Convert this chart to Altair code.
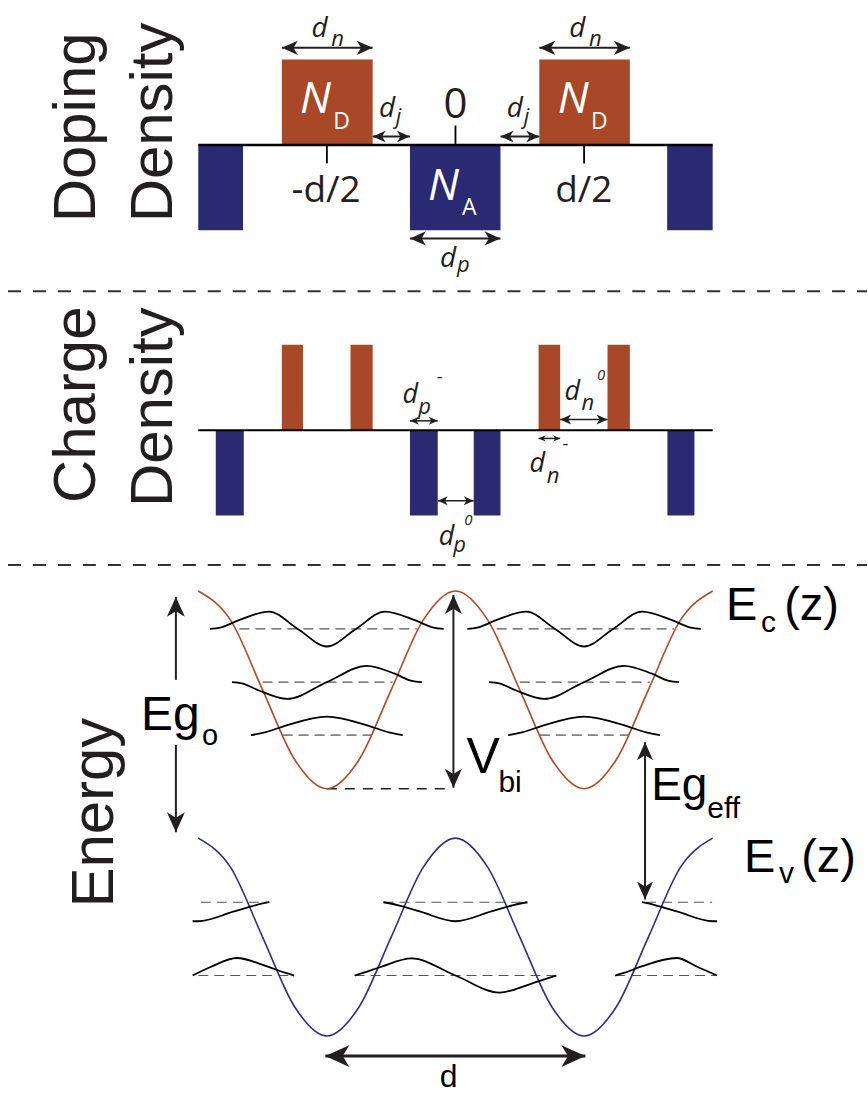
import altair as alt
import pandas as pd

# ------------------------------------------------------------------
# Page / scale set-up (z is measured in units of the period d, z = 0 at
# the centre of the acceptor layer)
# ------------------------------------------------------------------
W = 868
H1, H2, H3 = 291, 274, 530
X_DOM = [-1.7709, 1.6000]          # z range covered by the page width
Y1_DOM = [-1.7135, 1.6901]         # doping density, units of N
Y2_DOM = [-1.5789, 1.6257]         # charge density, units of N
Y3_DOM = [-3.0909, 2.2626]         # energy, arbitrary units (Vbi = 2)

ORANGE = "#A84826"
NAVY = "#2A2A72"
EC_COL = "#B04A26"
EV_COL = "#2E2E84"
INK = "#231F20"
FONT_M = "Open Sans"
FONT_H = "Liberation Sans"
HEAD = "M0,0L-2,-0.9L-1.45,0L-2,0.9Z"

# ------------------------------------------------------------------
# Chart values
# ------------------------------------------------------------------
# Doping density profile
dop_kind = ["acceptor", "donor", "acceptor", "donor", "acceptor"]
dop_z0 = [-1.000, -0.675, -0.177, 0.326, 0.823]
dop_z1 = [-0.826, -0.322, 0.175, 0.678, 1.000]
dop_level = [-1.0, 1.0, -1.0, 1.0, -1.0]

axis_z = [-1.0, 1.0]
tick_z = [-0.5, 0.0, 0.5]
tick_end = [-0.216, 0.228, -0.216]

# Charge density profile (depleted parts of each layer)
chg_kind = ["acceptor", "donor", "donor", "acceptor", "acceptor", "donor", "donor", "acceptor"]
chg_z0 = [-0.932, -0.675, -0.408, -0.177, 0.071, 0.323, 0.591, 0.824]
chg_z1 = [-0.823, -0.593, -0.322, -0.069, 0.175, 0.407, 0.678, 0.929]
chg_level = [-1.0, 1.0, 1.0, -1.0, -1.0, 1.0, 1.0, -1.0]

# Band edges
band_z = [-1.0, -0.875, -0.75, -0.625, -0.5, -0.375, -0.25, -0.125, 0.0,
          0.125, 0.25, 0.375, 0.5, 0.625, 0.75, 0.875, 1.0]
ec_E = [2.0, 1.707, 1.0, 0.293, 0.0, 0.293, 1.0, 1.707, 2.0,
        1.707, 1.0, 0.293, 0.0, 0.293, 1.0, 1.707, 2.0]
ev_E = [-0.5, -0.793, -1.5, -2.207, -2.5, -2.207, -1.5, -0.793, -0.5,
        -0.793, -1.5, -2.207, -2.5, -2.207, -1.5, -0.793, -0.5]

# Subband energies (dashed) : z0, z1, E
cb_lev_z0 = [-0.84, 0.16, -0.75, 0.25, -0.672, 0.328]
cb_lev_z1 = [-0.15, 0.85, -0.245, 0.755, -0.326, 0.674]
cb_lev_E = [1.616, 1.616, 1.078, 1.078, 0.542, 0.542]
vb_lev_z0 = [-0.99, -0.28, 0.741, -1.0, -0.392, 0.621]
vb_lev_z1 = [-0.72, 0.28, 0.998, -0.629, 0.392, 1.01]
vb_lev_E = [-1.148, -1.148, -1.148, -1.889, -1.889, -1.889]

# Wave functions drawn on top of each subband
waves = {
    "c1L": ([-0.954, -0.915, -0.842, -0.725, -0.613, -0.5, -0.387, -0.275, -0.158, -0.085, -0.046],
            [1.616, 1.628, 1.704, 1.791, 1.616, 1.438, 1.616, 1.791, 1.704, 1.628, 1.616]),
    "c1R": ([0.046, 0.085, 0.158, 0.275, 0.387, 0.5, 0.613, 0.725, 0.842, 0.915, 0.954],
            [1.616, 1.628, 1.704, 1.791, 1.616, 1.438, 1.616, 1.791, 1.704, 1.628, 1.616]),
    "c2L": ([-0.869, -0.83, -0.764, -0.655, -0.5, -0.345, -0.236, -0.17, -0.131],
            [1.078, 1.066, 0.993, 0.908, 1.078, 1.243, 1.163, 1.090, 1.078]),
    "c2R": ([0.131, 0.17, 0.236, 0.345, 0.5, 0.655, 0.764, 0.83, 0.869],
            [1.078, 1.066, 0.993, 0.908, 1.078, 1.243, 1.163, 1.090, 1.078]),
    "c3L": ([-0.795, -0.741, -0.663, -0.5, -0.337, -0.259, -0.205],
            [0.542, 0.570, 0.636, 0.730, 0.636, 0.570, 0.542]),
    "c3R": ([0.205, 0.259, 0.337, 0.5, 0.663, 0.741, 0.795],
            [0.542, 0.570, 0.636, 0.730, 0.636, 0.570, 0.542]),
    "v1L": ([-1.022, -1.0, -0.864, -0.775, -0.725],
            [-1.340, -1.340, -1.244, -1.177, -1.148]),
    "v1C": ([-0.280, -0.225, -0.136, 0.0, 0.136, 0.225, 0.280],
            [-1.148, -1.177, -1.244, -1.340, -1.244, -1.177, -1.148]),
    "v1R": ([0.725, 0.775, 0.864, 1.0, 1.017],
            [-1.148, -1.177, -1.244, -1.340, -1.340]),
    "v2L": ([-1.022, -0.95, -0.85, -0.73, -0.66, -0.627],
            [-1.889, -1.800, -1.712, -1.800, -1.863, -1.889]),
    "v2C": ([-0.392, -0.36, -0.291, -0.171, 0.0, 0.171, 0.291, 0.36, 0.392],
            [-1.889, -1.863, -1.803, -1.716, -1.889, -2.062, -1.975, -1.915, -1.889]),
    "v2R": ([0.621, 0.655, 0.72, 0.86, 0.94, 1.017],
            [-1.889, -1.863, -1.800, -1.712, -1.800, -1.889]),
}

vbi_ref = {"z0": -0.5, "z1": -0.016, "E": 0.0}

# Dimension arrows: panel, z0, z1, y0, y1, head at start, head at end, head length, width
arrows = [
    (1, -0.675, -0.322, 1.137, 1.137, True, True, 16, 2.0),
    (1, 0.326, 0.678, 1.137, 1.137, True, True, 16, 2.0),
    (1, -0.322, -0.177, 0.099, 0.099, True, True, 13, 2.0),
    (1, 0.175, 0.326, 0.099, 0.099, True, True, 13, 2.0),
    (1, -0.177, 0.175, -1.094, -1.094, True, True, 16, 2.0),
    (2, -0.177, -0.069, 0.109, 0.109, True, True, 9, 1.5),
    (2, -0.069, 0.071, -0.827, -0.827, True, True, 10, 1.5),
    (2, 0.407, 0.591, 0.125, 0.125, True, True, 11, 1.5),
    (2, 0.323, 0.407, -0.097, -0.097, True, True, 7, 1.5),
    (3, -0.008, -0.008, 0.01, 1.96, True, True, 19, 2.0),
    (3, -1.087, -1.087, 1.101, 1.94, False, True, 20, 2.0),
    (3, -1.087, -1.087, -0.44, 0.444, True, False, 20, 2.0),
    (3, 0.737, 0.737, -1.12, 0.47, True, True, 18, 2.0),
    (3, -0.506, 0.505, -2.704, -2.704, True, True, 24, 3.0),
]

# Text: panel, text, z, y, size, font, style, align, colour, angle
labels = [
    (1, "N", -0.544, 0.380, 44, FONT_M, "italic", "center", "white", 0),
    (1, "D", -0.443, 0.189, 23, FONT_M, "normal", "center", "white", 0),
    (1, "N", 0.458, 0.380, 44, FONT_M, "italic", "center", "white", 0),
    (1, "D", 0.559, 0.189, 23, FONT_M, "normal", "center", "white", 0),
    (1, "N", -0.047, -0.649, 44, FONT_M, "italic", "center", "white", 0),
    (1, "A", 0.054, -0.825, 23, FONT_M, "normal", "center", "white", 0),
    (1, "-d/2", -0.503, -0.673, 37, FONT_M, "normal", "center", INK, 0),
    (1, "0", 0.0, 0.310, 42, FONT_M, "normal", "center", INK, 0),
    (1, "d/2", 0.499, -0.673, 37, FONT_M, "normal", "center", INK, 0),
    (1, "d", -0.528, 1.269, 28, FONT_M, "italic", "center", INK, 0),
    (1, "n", -0.458, 1.164, 22, FONT_M, "italic", "center", INK, 0),
    (1, "d", 0.474, 1.269, 28, FONT_M, "italic", "center", INK, 0),
    (1, "n", 0.544, 1.164, 22, FONT_M, "italic", "center", INK, 0),
    (1, "d", -0.266, 0.325, 28, FONT_M, "italic", "center", INK, 0),
    (1, "j", -0.221, 0.240, 22, FONT_M, "italic", "center", INK, 0),
    (1, "d", 0.231, 0.325, 28, FONT_M, "italic", "center", INK, 0),
    (1, "j", 0.276, 0.240, 22, FONT_M, "italic", "center", INK, 0),
    (1, "d", -0.029, -1.433, 28, FONT_M, "italic", "center", INK, 0),
    (1, "p", 0.031, -1.491, 22, FONT_M, "italic", "center", INK, 0),
    (1, "Doping", -1.402, -0.906, 60, FONT_H, "normal", "left", INK, 270),
    (1, "Density", -1.103, -0.906, 60, FONT_H, "normal", "left", INK, 270),
    (2, "d", -0.176, 0.316, 27, FONT_M, "italic", "center", INK, 0),
    (2, "p", -0.120, 0.187, 22, FONT_M, "italic", "center", INK, 0),
    (2, "-", -0.062, 0.550, 18, FONT_M, "normal", "center", INK, 0),
    (2, "d", 0.454, 0.351, 27, FONT_M, "italic", "center", INK, 0),
    (2, "n", 0.515, 0.234, 22, FONT_M, "italic", "center", INK, 0),
    (2, "0", 0.566, 0.585, 15, FONT_M, "italic", "center", INK, 0),
    (2, "d", 0.318, -0.491, 27, FONT_M, "italic", "center", INK, 0),
    (2, "n", 0.379, -0.620, 22, FONT_M, "italic", "center", INK, 0),
    (2, "-", 0.427, -0.234, 18, FONT_M, "normal", "center", INK, 0),
    (2, "d", -0.035, -1.345, 27, FONT_M, "italic", "center", INK, 0),
    (2, "p", 0.016, -1.427, 22, FONT_M, "italic", "center", INK, 0),
    (2, "0", 0.050, -1.111, 15, FONT_M, "italic", "center", INK, 0),
    (2, "Charge", -1.402, -0.854, 60, FONT_H, "normal", "left", INK, 270),
    (2, "Density", -1.103, -0.901, 60, FONT_H, "normal", "left", INK, 270),
    (3, "Eg", -1.223, 0.596, 48, FONT_H, "normal", "left", "black", 0),
    (3, "o", -0.986, 0.444, 29, FONT_H, "normal", "left", "black", 0),
    (3, "V", 0.043, 0.162, 50, FONT_H, "normal", "left", "black", 0),
    (3, "bi", 0.167, -0.030, 30, FONT_H, "normal", "left", "black", 0),
    (3, "Eg", 0.761, -0.111, 46, FONT_H, "normal", "left", "black", 0),
    (3, "eff", 0.979, -0.293, 30, FONT_H, "normal", "left", "black", 0),
    (3, "E", 1.052, 1.707, 47, FONT_H, "normal", "left", "black", 0),
    (3, "c", 1.188, 1.586, 30, FONT_H, "normal", "left", "black", 0),
    (3, "(z)", 1.278, 1.707, 47, FONT_H, "normal", "left", "black", 0),
    (3, "E", 1.122, -0.838, 47, FONT_H, "normal", "left", "black", 0),
    (3, "v", 1.258, -0.949, 30, FONT_H, "normal", "left", "black", 0),
    (3, "(z)", 1.344, -0.838, 47, FONT_H, "normal", "left", "black", 0),
    (3, "d", -0.027, -3.020, 32, FONT_H, "normal", "center", "black", 0),
    (3, "Energy", -1.332, -1.202, 60, FONT_H, "normal", "left", INK, 270),
]


# ------------------------------------------------------------------
# Helpers
# ------------------------------------------------------------------
def X(f="z"):
    return alt.X(f"{f}:Q", scale=alt.Scale(domain=X_DOM, nice=False, zero=False), axis=None)


def Y(f, dom):
    return alt.Y(f"{f}:Q", scale=alt.Scale(domain=dom, nice=False, zero=False), axis=None)


KIND_COLOR = alt.Color("kind:N", scale=alt.Scale(domain=["acceptor", "donor"], range=[NAVY, ORANGE]),
                       legend=None)


def rect_layer(kind, z0, z1, level, dom):
    df = pd.DataFrame({"kind": kind, "z0": z0, "z1": z1, "level": level, "base": 0.0})
    return alt.Chart(df).mark_rect().encode(x=X("z0"), x2="z1", y=Y("base", dom), y2="level",
                                            color=KIND_COLOR)


def axis_layer(dom, width):
    df = pd.DataFrame({"z0": [axis_z[0]], "z1": [axis_z[1]], "v": [0.0]})
    return alt.Chart(df).mark_rule(color="black", strokeWidth=width).encode(
        x=X("z0"), x2="z1", y=Y("v", dom))


def arrow_layers(panel, dom):
    rows = [a for a in arrows if a[0] == panel]
    shafts = pd.DataFrame([{"z0": a[1], "z1": a[2], "y0": a[3], "y1": a[4], "w": a[8]} for a in rows])
    heads = []
    for p, z0, z1, y0, y1, h0, h1, L, w in rows:
        horizontal = (y0 == y1)
        if h1:
            heads.append({"z": z1, "y": y1, "size": L * L, "angle": 0 if horizontal else 270})
        if h0:
            heads.append({"z": z0, "y": y0, "size": L * L, "angle": 180 if horizontal else 90})
    heads = pd.DataFrame(heads)
    s = alt.Chart(shafts).mark_rule(color=INK, strokeCap="butt").encode(
        x=X("z0"), x2="z1", y=Y("y0", dom), y2="y1",
        strokeWidth=alt.StrokeWidth("w:Q", scale=None))
    h = alt.Chart(heads).mark_point(shape=HEAD, filled=True, color=INK, opacity=1, strokeWidth=0).encode(
        x=X("z"), y=Y("y", dom), size=alt.Size("size:Q", scale=None),
        angle=alt.Angle("angle:Q", scale=None))
    return [s, h]


def text_layers(panel, dom):
    df = pd.DataFrame([r[1:] for r in labels if r[0] == panel],
                      columns=["text", "z", "y", "size", "font", "style", "align", "color", "angle"])
    out = []
    for (font, style, align, color, angle), g in df.groupby(["font", "style", "align", "color", "angle"]):
        mk = dict(font=font, align=align, baseline="alphabetic", color=color)
        if style == "italic":
            mk["fontStyle"] = "italic"
        if angle:
            mk["angle"] = int(angle)
        out.append(alt.Chart(g).mark_text(**mk).encode(
            x=X("z"), y=Y("y", dom), text="text:N", size=alt.Size("size:Q", scale=None)))
    return out


one = pd.DataFrame({"k": [0]})


def separator(h):
    return alt.Chart(one).mark_rule(color="#333333", strokeWidth=2, strokeDash=[13, 12]).encode(
        x=alt.value(8), x2=alt.value(W), y=alt.value(h))


# ------------------------------------------------------------------
# Panel 1: doping density
# ------------------------------------------------------------------
ticks = pd.DataFrame({"z": tick_z, "v0": 0.0, "v1": tick_end})
p1_layers = [
    rect_layer(dop_kind, dop_z0, dop_z1, dop_level, Y1_DOM),
    axis_layer(Y1_DOM, 2.5),
    alt.Chart(ticks).mark_rule(color="black", strokeWidth=1.8).encode(
        x=X("z"), y=Y("v0", Y1_DOM), y2="v1"),
] + arrow_layers(1, Y1_DOM) + text_layers(1, Y1_DOM) + [separator(H1)]
p1 = alt.layer(*p1_layers).properties(width=W, height=H1)

# ------------------------------------------------------------------
# Panel 2: charge density
# ------------------------------------------------------------------
p2_layers = [
    rect_layer(chg_kind, chg_z0, chg_z1, chg_level, Y2_DOM),
    axis_layer(Y2_DOM, 2.0),
] + arrow_layers(2, Y2_DOM) + text_layers(2, Y2_DOM) + [separator(H2)]
p2 = alt.layer(*p2_layers).properties(width=W, height=H2)

# ------------------------------------------------------------------
# Panel 3: energy
# ------------------------------------------------------------------
ec_df = pd.DataFrame({"z": band_z, "E": ec_E})
ev_df = pd.DataFrame({"z": band_z, "E": ev_E})
wave_df = pd.concat([
    pd.DataFrame({"wave": k, "z": v[0], "E": v[1], "i": range(len(v[0]))}) for k, v in waves.items()
])
levels = pd.DataFrame({"z0": cb_lev_z0 + vb_lev_z0, "z1": cb_lev_z1 + vb_lev_z1,
                       "E": cb_lev_E + vb_lev_E})
vbi_df = pd.DataFrame({"z0": [vbi_ref["z0"]], "z1": [vbi_ref["z1"]], "E": [vbi_ref["E"]]})

p3_layers = [
    alt.Chart(levels).mark_rule(color="#555555", strokeWidth=1.2, strokeDash=[10, 6]).encode(
        x=X("z0"), x2="z1", y=Y("E", Y3_DOM)),
    alt.Chart(vbi_df).mark_rule(color=INK, strokeWidth=1.6, strokeDash=[10, 8]).encode(
        x=X("z0"), x2="z1", y=Y("E", Y3_DOM)),
    alt.Chart(ec_df).mark_line(interpolate="monotone", strokeWidth=1.6, color=EC_COL).encode(
        x=X("z"), y=Y("E", Y3_DOM)),
    alt.Chart(ev_df).mark_line(interpolate="monotone", strokeWidth=1.6, color=EV_COL).encode(
        x=X("z"), y=Y("E", Y3_DOM)),
    alt.Chart(wave_df).mark_line(interpolate="monotone", strokeWidth=1.8, color="black").encode(
        x=X("z"), y=Y("E", Y3_DOM), detail="wave:N", order="i:Q"),
] + arrow_layers(3, Y3_DOM) + text_layers(3, Y3_DOM)
p3 = alt.layer(*p3_layers).properties(width=W, height=H3)

chart = alt.vconcat(p1, p2, p3, spacing=0, bounds="flush", padding=0,
                    background="white").configure_view(strokeWidth=0)

chart.save("out.html", embed_options={"renderer": "svg", "actions": False})
